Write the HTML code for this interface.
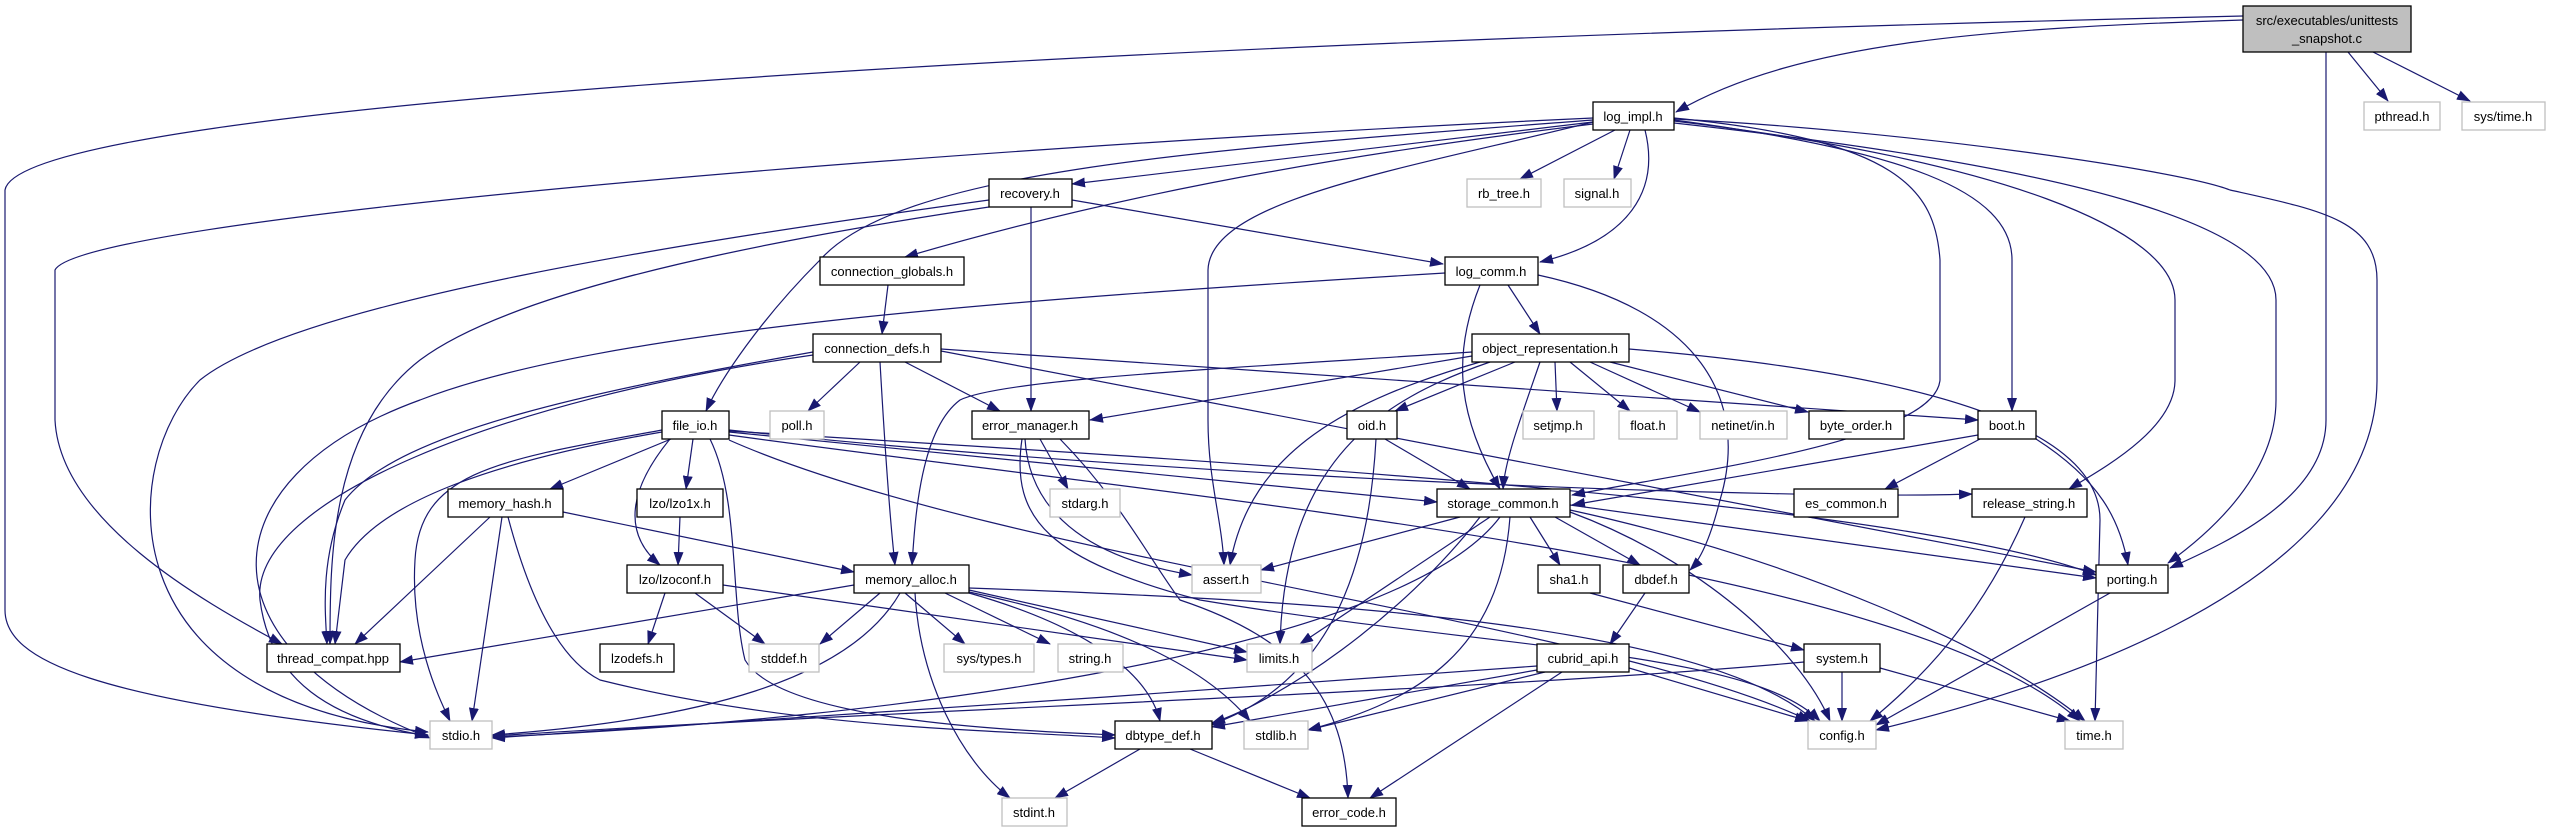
<!DOCTYPE html>
<html><head><meta charset="utf-8"><style>
html,body{margin:0;padding:0;background:#fff;}
svg{display:block;}
text{font-family:"Liberation Sans",sans-serif;font-size:13px;fill:#000;text-anchor:middle;}
.e path{fill:none;stroke:#191970;stroke-width:1.2;marker-end:url(#a);}
.b{fill:#fff;stroke:#000;stroke-width:1.3;}
.g{fill:#fff;stroke:#bfbfbf;stroke-width:1.3;}
</style></head><body>
<svg width="2552" height="832" viewBox="0 0 2552 832" xmlns="http://www.w3.org/2000/svg">
<defs><marker id="a" markerWidth="14" markerHeight="10" refX="13" refY="5" orient="auto" markerUnits="userSpaceOnUse"><path d="M0,0 L14,5 L0,10z" fill="#191970"/></marker></defs>
<g class="e">
<path d="M2243,20 C2000,28 1800,40 1676,112"/>
<path d="M2243,16 C1200,40 20,100 5,190 L5,610 C5,660 90,700 428,735"/>
<path d="M2326,52 L2326,420 C2326,500 2220,545 2170,568"/>
<path d="M2348,52 L2388,101"/>
<path d="M2373,52 L2470,101"/>
<path d="M1593,122 L1072,184"/>
<path d="M1615,130 L1520,179"/>
<path d="M1630,130 L1614,179"/>
<path d="M1645,130 C1660,190 1630,240 1540,262"/>
<path d="M1593,124 C1300,160 1100,200 905,257"/>
<path d="M1593,120 C1200,150 900,170 820,260 C760,320 720,380 706,411"/>
<path d="M1593,118 C900,150 80,220 55,270 L55,420 C60,520 200,600 282,644"/>
<path d="M1593,122 C1400,170 1210,200 1208,270 L1208,420 C1208,480 1222,520 1224,565"/>
<path d="M1674,118 C1900,140 1935,190 1940,260 L1940,380 C1935,440 1700,470 1572,495"/>
<path d="M1674,120 C1900,150 2012,190 2012,260 L2012,411"/>
<path d="M1674,121 C2000,160 2175,230 2175,300 L2175,380 C2175,430 2100,470 2069,489"/>
<path d="M1674,123 C2100,170 2276,230 2276,300 L2276,400 C2276,480 2200,540 2168,563"/>
<path d="M1674,119 C1900,130 2180,170 2230,190 C2320,210 2377,220 2377,280 L2377,380 C2377,600 2000,700 1876,730"/>
<path d="M1072,200 L1443,264"/>
<path d="M1031,207 L1031,411"/>
<path d="M989,207 C700,250 500,300 420,360 C330,430 330,560 330,644"/>
<path d="M989,200 C700,240 300,300 200,380 C120,460 100,700 428,732"/>
<path d="M888,285 L882,334"/>
<path d="M1508,285 L1540,334"/>
<path d="M1480,285 C1450,360 1460,420 1500,489"/>
<path d="M1538,275 C1700,310 1750,400 1720,500 C1710,540 1700,560 1690,570"/>
<path d="M1445,273 C1000,300 600,330 420,400 C200,480 200,650 430,738"/>
<path d="M860,362 L808,411"/>
<path d="M905,362 L1000,411"/>
<path d="M880,362 C885,450 890,520 895,565"/>
<path d="M813,355 C500,400 250,500 260,600 C270,680 330,720 428,736"/>
<path d="M813,352 C600,390 400,430 345,500 C320,560 325,610 327,644"/>
<path d="M941,351 L2096,572"/>
<path d="M941,349 L1978,420"/>
<path d="M1472,356 L1090,420"/>
<path d="M1472,352 C1200,370 1000,380 960,400 C920,430 915,520 912,565"/>
<path d="M1515,362 L1395,411"/>
<path d="M1540,362 C1520,420 1505,460 1503,489"/>
<path d="M1555,362 L1557,411"/>
<path d="M1570,362 L1630,411"/>
<path d="M1590,362 L1700,412"/>
<path d="M1610,362 L1808,412"/>
<path d="M1480,362 C1350,400 1250,450 1230,565"/>
<path d="M1490,362 C1380,400 1285,460 1280,644"/>
<path d="M1629,349 C2000,380 2100,450 2100,520 L2095,721"/>
<path d="M671,439 L550,489"/>
<path d="M693,439 L686,489"/>
<path d="M670,439 C620,500 630,540 660,565"/>
<path d="M662,432 C500,460 380,500 345,560 L335,644"/>
<path d="M662,430 C500,460 420,470 415,560 C410,640 440,700 450,721"/>
<path d="M710,439 C740,500 730,600 745,660 C780,720 1000,730 1115,735"/>
<path d="M729,432 L1437,502"/>
<path d="M729,430 C1200,480 1800,500 1972,494"/>
<path d="M729,431 C1200,460 1900,500 2096,575"/>
<path d="M729,435 C1200,500 1900,560 2080,721"/>
<path d="M729,440 C1000,560 1600,620 1810,721"/>
<path d="M1040,439 L1068,489"/>
<path d="M1025,439 C1030,520 1100,560 1192,575"/>
<path d="M1060,439 C1120,500 1150,560 1180,600 C1300,640 1345,700 1348,798"/>
<path d="M1022,439 C1010,520 1050,560 1200,600 C1500,650 1750,650 1820,721"/>
<path d="M1385,439 L1470,489"/>
<path d="M1376,439 C1370,550 1340,680 1210,725"/>
<path d="M563,512 L854,572"/>
<path d="M490,517 L355,644"/>
<path d="M502,517 L472,721"/>
<path d="M508,517 C530,600 560,660 600,680 C800,730 1000,730 1115,738"/>
<path d="M680,517 L678,565"/>
<path d="M665,593 L648,644"/>
<path d="M695,593 L765,644"/>
<path d="M723,585 L1247,660"/>
<path d="M854,585 L400,662"/>
<path d="M880,593 L820,644"/>
<path d="M905,593 L965,644"/>
<path d="M945,593 L1050,644"/>
<path d="M969,590 L1247,652"/>
<path d="M969,593 C1100,630 1150,680 1160,721"/>
<path d="M969,592 C1100,620 1200,660 1250,721"/>
<path d="M915,593 C920,680 960,760 1010,798"/>
<path d="M900,593 C850,680 700,720 492,735"/>
<path d="M969,588 C1300,600 1700,620 1815,721"/>
<path d="M1460,517 L1261,570"/>
<path d="M1490,517 L1300,644"/>
<path d="M1530,517 L1560,565"/>
<path d="M1555,517 L1640,565"/>
<path d="M1500,517 C1400,650 900,720 492,737"/>
<path d="M1480,517 C1400,620 1280,700 1212,723"/>
<path d="M1510,517 C1500,650 1420,700 1308,730"/>
<path d="M1570,505 L2096,578"/>
<path d="M1570,512 C1700,560 1800,650 1830,721"/>
<path d="M1570,510 C1800,560 2000,650 2085,721"/>
<path d="M1590,593 L1804,650"/>
<path d="M1645,593 L1610,644"/>
<path d="M1537,670 L1212,727"/>
<path d="M1545,672 L1308,730"/>
<path d="M1562,672 L1370,798"/>
<path d="M1537,666 C1200,690 800,720 492,738"/>
<path d="M1629,668 L1808,721"/>
<path d="M1980,439 L1885,489"/>
<path d="M1978,435 L1572,505"/>
<path d="M2036,439 C2100,480 2120,520 2128,565"/>
<path d="M2025,517 C1980,620 1920,680 1870,721"/>
<path d="M2110,593 L1876,725"/>
<path d="M1842,672 L1842,721"/>
<path d="M1880,668 L2070,721"/>
<path d="M1804,662 C1500,690 900,710 492,736"/>
<path d="M1140,749 L1055,798"/>
<path d="M1190,749 L1310,798"/>
</g>
<g>
<rect x="2243" y="6" width="168" height="46" fill="#bfbfbf" stroke="#000" stroke-width="1.3"/>
<text x="2327" y="25">src/executables/unittests</text><text x="2327" y="43">_snapshot.c</text>
<rect class="b" x="1593" y="102" width="81" height="28"/><text x="1633" y="121">log_impl.h</text>
<rect class="g" x="2364" y="102" width="76" height="28"/><text x="2402" y="121">pthread.h</text>
<rect class="g" x="2462" y="102" width="83" height="28"/><text x="2503" y="121">sys/time.h</text>
<rect class="b" x="989" y="179" width="83" height="28"/><text x="1030" y="198">recovery.h</text>
<rect class="g" x="1467" y="179" width="74" height="28"/><text x="1504" y="198">rb_tree.h</text>
<rect class="g" x="1564" y="179" width="67" height="28"/><text x="1597" y="198">signal.h</text>
<rect class="b" x="820" y="257" width="144" height="28"/><text x="892" y="276">connection_globals.h</text>
<rect class="b" x="1445" y="257" width="93" height="28"/><text x="1491" y="276">log_comm.h</text>
<rect class="b" x="813" y="334" width="128" height="28"/><text x="877" y="353">connection_defs.h</text>
<rect class="b" x="1472" y="334" width="157" height="28"/><text x="1550" y="353">object_representation.h</text>
<rect class="b" x="662" y="411" width="67" height="28"/><text x="695" y="430">file_io.h</text>
<rect class="g" x="770" y="411" width="54" height="28"/><text x="797" y="430">poll.h</text>
<rect class="b" x="972" y="411" width="117" height="28"/><text x="1030" y="430">error_manager.h</text>
<rect class="b" x="1347" y="411" width="50" height="28"/><text x="1372" y="430">oid.h</text>
<rect class="g" x="1523" y="411" width="71" height="28"/><text x="1558" y="430">setjmp.h</text>
<rect class="g" x="1619" y="411" width="58" height="28"/><text x="1648" y="430">float.h</text>
<rect class="g" x="1700" y="411" width="87" height="28"/><text x="1743" y="430">netinet/in.h</text>
<rect class="b" x="1809" y="411" width="95" height="28"/><text x="1856" y="430">byte_order.h</text>
<rect class="b" x="1978" y="411" width="58" height="28"/><text x="2007" y="430">boot.h</text>
<rect class="b" x="448" y="489" width="115" height="28"/><text x="505" y="508">memory_hash.h</text>
<rect class="b" x="637" y="489" width="86" height="28"/><text x="680" y="508">lzo/lzo1x.h</text>
<rect class="g" x="1050" y="489" width="70" height="28"/><text x="1085" y="508">stdarg.h</text>
<rect class="b" x="1437" y="489" width="133" height="28"/><text x="1503" y="508">storage_common.h</text>
<rect class="b" x="1794" y="489" width="104" height="28"/><text x="1846" y="508">es_common.h</text>
<rect class="b" x="1972" y="489" width="115" height="28"/><text x="2029" y="508">release_string.h</text>
<rect class="b" x="627" y="565" width="96" height="28"/><text x="675" y="584">lzo/lzoconf.h</text>
<rect class="b" x="854" y="565" width="115" height="28"/><text x="911" y="584">memory_alloc.h</text>
<rect class="g" x="1192" y="565" width="69" height="28"/><text x="1226" y="584">assert.h</text>
<rect class="b" x="1538" y="565" width="62" height="28"/><text x="1569" y="584">sha1.h</text>
<rect class="b" x="1623" y="565" width="66" height="28"/><text x="1656" y="584">dbdef.h</text>
<rect class="b" x="2096" y="565" width="72" height="28"/><text x="2132" y="584">porting.h</text>
<rect class="b" x="267" y="644" width="133" height="28"/><text x="333" y="663">thread_compat.hpp</text>
<rect class="b" x="600" y="644" width="74" height="28"/><text x="637" y="663">lzodefs.h</text>
<rect class="g" x="749" y="644" width="70" height="28"/><text x="784" y="663">stddef.h</text>
<rect class="g" x="944" y="644" width="90" height="28"/><text x="989" y="663">sys/types.h</text>
<rect class="g" x="1058" y="644" width="65" height="28"/><text x="1090" y="663">string.h</text>
<rect class="g" x="1247" y="644" width="65" height="28"/><text x="1279" y="663">limits.h</text>
<rect class="b" x="1537" y="644" width="92" height="28"/><text x="1583" y="663">cubrid_api.h</text>
<rect class="b" x="1804" y="644" width="76" height="28"/><text x="1842" y="663">system.h</text>
<rect class="g" x="430" y="721" width="62" height="28"/><text x="461" y="740">stdio.h</text>
<rect class="b" x="1115" y="721" width="97" height="28"/><text x="1163" y="740">dbtype_def.h</text>
<rect class="g" x="1244" y="721" width="64" height="28"/><text x="1276" y="740">stdlib.h</text>
<rect class="g" x="1808" y="721" width="68" height="28"/><text x="1842" y="740">config.h</text>
<rect class="g" x="2065" y="721" width="58" height="28"/><text x="2094" y="740">time.h</text>
<rect class="g" x="1002" y="798" width="65" height="28"/><text x="1034" y="817">stdint.h</text>
<rect class="b" x="1302" y="798" width="94" height="28"/><text x="1349" y="817">error_code.h</text>
</g>
</svg>
</body></html>
